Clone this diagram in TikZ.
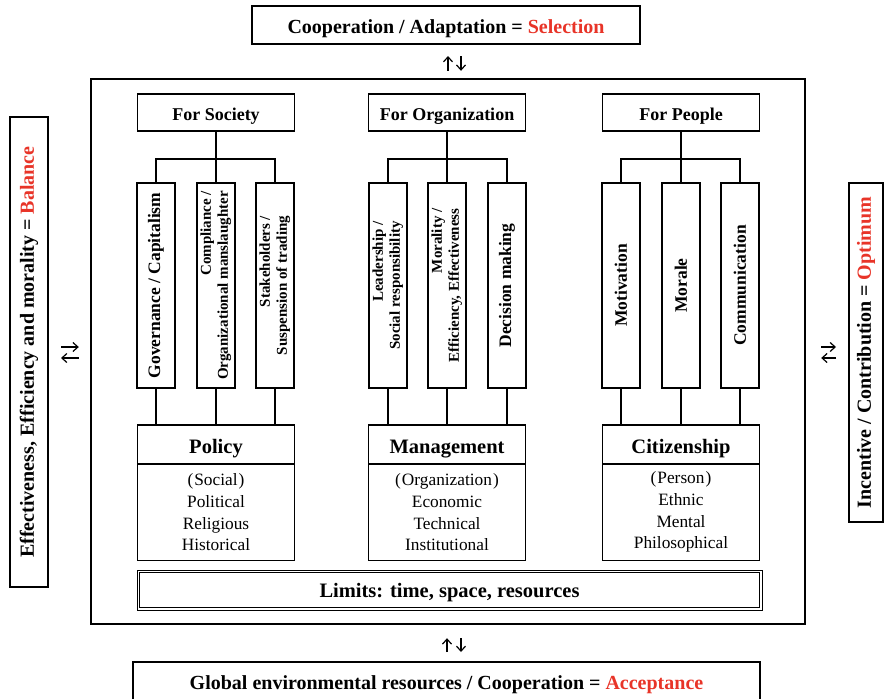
\documentclass[tikz,border=0pt]{standalone}
\usepackage{fontspec}
\setmainfont{Liberation Serif}
\usetikzlibrary{positioning,arrows.meta}
\definecolor{keyred}{RGB}{232,52,40}

% rotated labels inside the pillars
\newcommand{\pillarone}[1]{\rotatebox{90}{\bfseries\fontsize{17.5}{20}\selectfont #1}}
\newcommand{\pillartwo}[2]{\rotatebox{90}{\bfseries\fontsize{15}{17}\selectfont
  \begin{tabular}{@{}r@{}}#1\\#2\end{tabular}}}

\begin{document}
\begin{tikzpicture}[x=1pt,y=-1pt,
    outer/.style={draw,line width=2pt,inner sep=0pt,font=\bfseries\fontsize{20}{24}\selectfont},
    banner/.style={outer,text height=16pt,text depth=0pt},
    head/.style={draw,line width=1.9pt,minimum width=157pt,minimum height=37pt,text height=16pt,text depth=0pt,
      font=\bfseries\fontsize{18}{22}\selectfont},
    pillar/.style={draw,line width=1.8pt,minimum width=38pt,minimum height=205pt,inner sep=0pt},
    title/.style={draw,line width=1.9pt,minimum width=157pt,minimum height=39pt,text height=18pt,text depth=0pt,
      font=\bfseries\fontsize{20.5}{24}\selectfont},
    detail/.style={draw,line width=0.9pt,minimum width=157pt,minimum height=96pt,align=center,font=\fontsize{17.3}{21.7}\selectfont},
    link/.style={line width=1.5pt},
    swap/.style={line width=1.2pt,-{Straight Barb[length=5pt,width=9pt]}}]
  \useasboundingbox (0,0) rectangle (884,699);

  % outer boxes and the frame
  \node[banner,minimum width=388pt,minimum height=38pt] (goal) at (446,25)
    {Cooperation / Adaptation = \textcolor{keyred}{Selection}};
  \node[draw,line width=2.4pt,minimum width=714pt,minimum height=545pt] (frame) at (448,351.5) {};
  \node[banner,minimum width=627pt,minimum height=38pt] (ground) at (446.5,681)
    {Global environmental resources / Cooperation = \textcolor{keyred}{Acceptance}};
  \node[outer,minimum width=38pt,minimum height=470pt] (balance) at (29,352)
    {\rotatebox{90}{Effectiveness, Efficiency and morality = \textcolor{keyred}{Balance}}};
  \node[outer,minimum width=34pt,minimum height=339pt] (optimum) at (866,352.5)
    {\rotatebox{90}{Incentive / Contribution = \textcolor{keyred}{Optimum}}};

  % pillars
  \node[pillar] (sA) at (156,285.5) {\pillarone{Governance / Capitalism}};
  \node[pillar] (sB) at (216,285.5) {\pillartwo{Compliance /}{Organizational manslaughter}};
  \node[pillar] (sC) at (275,285.5) {\pillartwo{Stakeholders /}{Suspension of trading}};
  \node[pillar] (oA) at (388,285.5) {\pillartwo{Leadership /}{Social responsibility}};
  \node[pillar] (oB) at (447,285.5) {\pillartwo{Morality /}{Efficiency, Effectiveness}};
  \node[pillar] (oC) at (507,285.5) {\pillarone{Decision making}};
  \node[pillar] (pA) at (621,285.5) {\pillarone{Motivation}};
  \node[pillar] (pB) at (681,285.5) {\pillarone{Morale}};
  \node[pillar] (pC) at (740,285.5) {\pillarone{Communication}};

  % headers above, titles and details below
  \node[head,above=50pt of sB] (forS) {For Society};
  \node[head,above=50pt of oB] (forO) {For Organization};
  \node[head,above=50pt of pB] (forP) {For People};

  \node[title,below=35pt of sB] (polS) {Policy};
  \node[title,below=35pt of oB] (manO) {Management};
  \node[title,below=35pt of pB] (citP) {Citizenship};

  \node[detail,below=-1pt of polS] (polSd) {(\kern1pt Social\kern1pt)\\Political\\Religious\\Historical};
  \node[detail,below=-1pt of manO] (manOd) {(\kern1pt Organization\kern1pt)\\Economic\\Technical\\Institutional};
  \node[detail,below=-1pt of citP] (citPd) {(\kern1pt Person\kern1pt)\\Ethnic\\Mental\\Philosophical};

  % limits bar with a double border
  \node[draw,line width=0.9pt,minimum width=625pt,minimum height=40pt,text height=14pt,text depth=0pt,
    font=\bfseries\fontsize{20.5}{24}\selectfont] (limits) at (449.5,590) {Limits: time, space, resources};
  \draw[line width=1.4pt] ([shift={(3pt,-3pt)}]limits.north west) rectangle ([shift={(-3pt,3pt)}]limits.south east);

  % branching from headers to pillars
  \draw[link] (forS) -- (sB);
  \draw[link] (sA.north) -- ++(0,-23) -| (sC.north);
  \draw[link] (forO) -- (oB);
  \draw[link] (oA.north) -- ++(0,-23) -| (oC.north);
  \draw[link] (forP) -- (pB);
  \draw[link] (pA.north) -- ++(0,-23) -| (pC.north);

  % pillars down to the titles
  \draw[link] (sA.south) -- (sA.south |- polS.north);
  \draw[link] (sB.south) -- (sB.south |- polS.north);
  \draw[link] (sC.south) -- (sC.south |- polS.north);
  \draw[link] (oA.south) -- (oA.south |- manO.north);
  \draw[link] (oB.south) -- (oB.south |- manO.north);
  \draw[link] (oC.south) -- (oC.south |- manO.north);
  \draw[link] (pA.south) -- (pA.south |- citP.north);
  \draw[link] (pB.south) -- (pB.south |- citP.north);
  \draw[link] (pC.south) -- (pC.south |- citP.north);

  % two-way arrows between the frame and the outer boxes
  \draw[swap,shorten <=7pt,shorten >=11pt] (frame.north) -- ([xshift=2pt]goal.south);
  \draw[swap,shorten <=11pt,shorten >=7pt] ([xshift=15pt]goal.south) -- ([xshift=13pt]frame.north);

  \draw[swap,shorten <=9pt,shorten >=13pt] ([xshift=0.5pt]ground.north) -- ([xshift=-1pt]frame.south);
  \draw[swap,shorten <=13pt,shorten >=9pt] ([xshift=13pt]frame.south) -- ([xshift=14.5pt]ground.north);

  \draw[swap,shorten <=12pt,shorten >=11pt] ([yshift=5pt]balance.east) -- ([yshift=4.5pt]frame.west);
  \draw[swap,shorten <=11pt,shorten >=12pt] ([yshift=-6.5pt]frame.west) -- ([yshift=-6pt]balance.east);

  \draw[swap,shorten <=15pt,shorten >=12pt] ([yshift=4.5pt]frame.east) -- ([yshift=5.5pt]optimum.west);
  \draw[swap,shorten <=12pt,shorten >=15pt] ([yshift=-5.5pt]optimum.west) -- ([yshift=-6.5pt]frame.east);
\end{tikzpicture}
\end{document}
